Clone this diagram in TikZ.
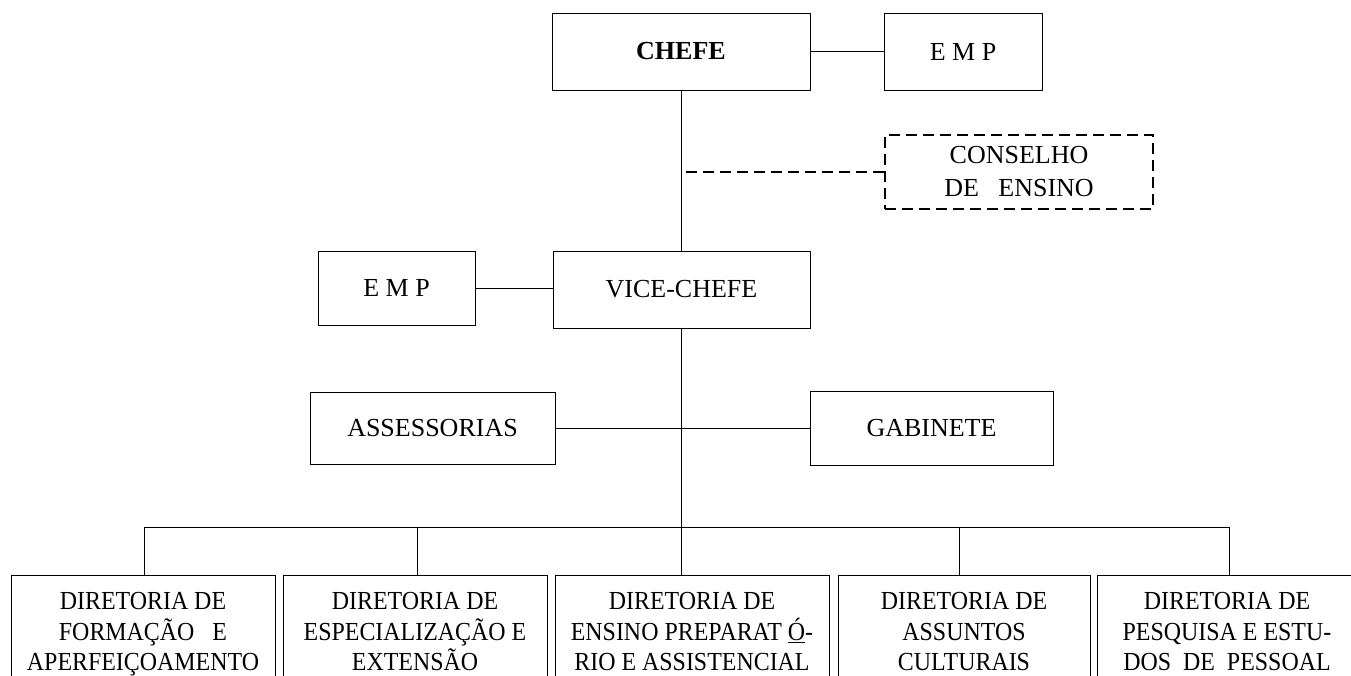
\documentclass[tikz,border=0pt]{standalone}
\usepackage{fontspec}
\setmainfont{Liberation Serif}
\newfontfamily\condfont[FakeStretch=0.92]{Liberation Serif}
\newcommand\fixedlines{\lineskiplimit=-100pt\relax}
\begin{document}
\begin{tikzpicture}[x=1pt,y=-1pt,
  box/.style={draw, line width=1pt, inner sep=0pt, align=center, font=\fontsize{26}{30}\selectfont},
  dashbox/.style={box, line width=2.6pt, dash pattern=on 11pt off 6pt, font=\fontsize{26}{33}\selectfont\fixedlines},
  dirbox/.style={box, anchor=north, minimum height=117pt, font=\condfont\fontsize{26}{30.5}\selectfont\fixedlines},
  conn/.style={line width=0.9pt},
  dconn/.style={line width=2.6pt, dash pattern=on 11pt off 6pt}]
\useasboundingbox (0,0) rectangle (1351,675);
\clip (0,0) rectangle (1351,675);

\node[box, minimum width=258pt, minimum height=77pt] (chefe) at (681,51.5) {\textbf{CHEFE}};
\node[box, minimum width=158pt, minimum height=77pt] (empA) at (963,51.5) {E M P};
\node[dashbox, minimum width=268pt, minimum height=74pt] (cons) at (1019,172) {CONSELHO\\DE~~~ENSINO};
\node[box, minimum width=257pt, minimum height=77pt] (vice) at (681.5,289.5) {VICE-CHEFE};
\node[box, minimum width=157pt, minimum height=74pt] (empB) at (396.5,288) {E M P};
\node[box, minimum width=245pt, minimum height=72pt] (ass) at (432.5,428) {ASSESSORIAS};
\node[box, minimum width=243pt, minimum height=74pt] (gab) at (931.5,428) {GABINETE};

\node[dirbox, minimum width=264pt] (d1) at (143,575) {\strut DIRETORIA DE\\\strut FORMAÇÃO~~~E\\\strut APERFEIÇOAMENTO};
\node[dirbox, minimum width=264pt] (d2) at (415,575) {\strut DIRETORIA DE\\\strut ESPECIALIZAÇÃO E\\\strut EXTENSÃO};
\node[dirbox, minimum width=274pt] (d3) at (692,575) {\strut DIRETORIA DE\\\strut ENSINO PREPARAT \underline{Ó}-\\\strut RIO E ASSISTENCIAL};
\node[dirbox, minimum width=252pt] (d4) at (964,575) {\strut DIRETORIA DE\\\strut ASSUNTOS\\\strut CULTURAIS};
\node[dirbox, minimum width=260pt] (d5) at (1227,575) {\strut DIRETORIA DE\\\strut PESQUISA E ESTU-\\\strut DOS~~DE~~PESSOAL};

\coordinate (t1) at (144,527);
\coordinate (t2) at (417,527);
\coordinate (t3) at (681,527);
\coordinate (t4) at (959,527);
\coordinate (t5) at (1229,527);

\draw[conn] (chefe.east) -- (empA.west);
\draw[conn] (chefe.south) -- (chefe.south |- vice.north);
\draw[dconn] (cons.west) -- (cons.west -| chefe.south);
\draw[conn] (empB.east) -- (empB.east -| vice.west);
\draw[conn] (ass.east) -- (gab.west);
\draw[conn] (vice.south -| t3) -- (t3 |- d3.north);
\draw[conn] (t1) -- (t5);
\draw[conn] (t1) -- (t1 |- d1.north);
\draw[conn] (t2) -- (t2 |- d2.north);
\draw[conn] (t4) -- (t4 |- d4.north);
\draw[conn] (t5) -- (t5 |- d5.north);
\end{tikzpicture}
\end{document}
